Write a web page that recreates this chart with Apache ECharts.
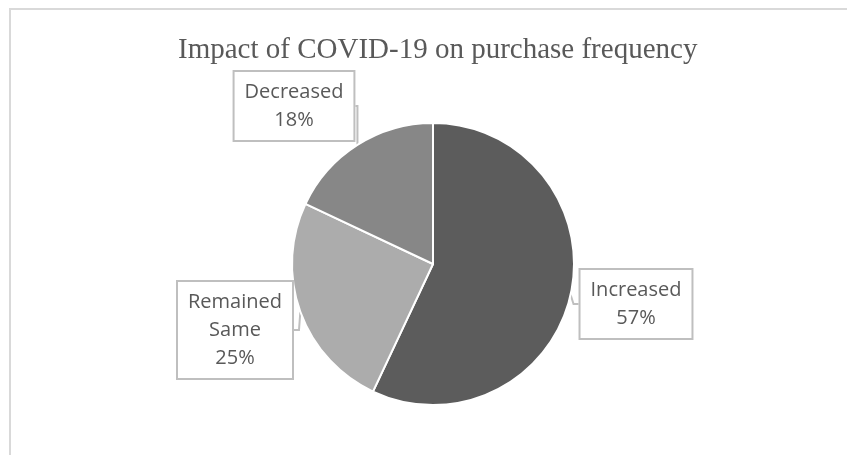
<!DOCTYPE html>
<html><head><meta charset="utf-8">
<script src="https://cdn.jsdelivr.net/npm/echarts@6/dist/echarts.min.js"></script>
<style>html,body{margin:0;padding:0;background:#fff}#c{width:847px;height:455px}</style>
</head><body><div id="c"></div>
<script>
const categories = ["Increased", "Remained\nSame", "Decreased"];
const values = [57, 25, 18];
const colors = ["#5c5c5c", "#acacac", "#878787"];
const labelPos = [[636, 304], [235, 330], [294, 106]];

const chart = echarts.init(document.getElementById('c'));
chart.setOption({
  animation: false,
  backgroundColor: '#fff',
  graphic: [{
    type: 'rect', shape: {x: 10, y: 9, width: 900, height: 500},
    style: {fill: 'none', stroke: '#d9d9d9', lineWidth: 2}, silent: true
  }],
  title: {
    text: 'Impact of COVID-19 on purchase frequency',
    left: 173, top: 31,
    textStyle: {fontFamily: 'Liberation Serif', fontWeight: 'normal', fontSize: 29, color: '#595959'}
  },
  series: [{
    type: 'pie',
    center: [433, 264], radius: [0, 141],
    startAngle: 90, clockwise: true,
    data: categories.map((n, i) => ({name: n, value: values[i], itemStyle: {color: colors[i]}})),
    itemStyle: {borderColor: '#fff', borderWidth: 2},
    label: {
      show: true, position: 'outside',
      formatter: p => p.name + '\n' + p.value + '%',
      fontFamily: 'Open Sans', fontSize: 20, lineHeight: 28, color: '#595959',
      backgroundColor: '#fff', borderColor: '#bfbfbf', borderWidth: 2,
      padding: [6, 10], align: 'center'
    },
    labelLine: {show: true, length: 5, length2: 5, lineStyle: {color: '#bfbfbf', width: 2}},
    labelLayout: p => ({x: labelPos[p.dataIndex][0], y: labelPos[p.dataIndex][1], align: 'center', verticalAlign: 'middle'})
  }]
});
</script></body></html>
